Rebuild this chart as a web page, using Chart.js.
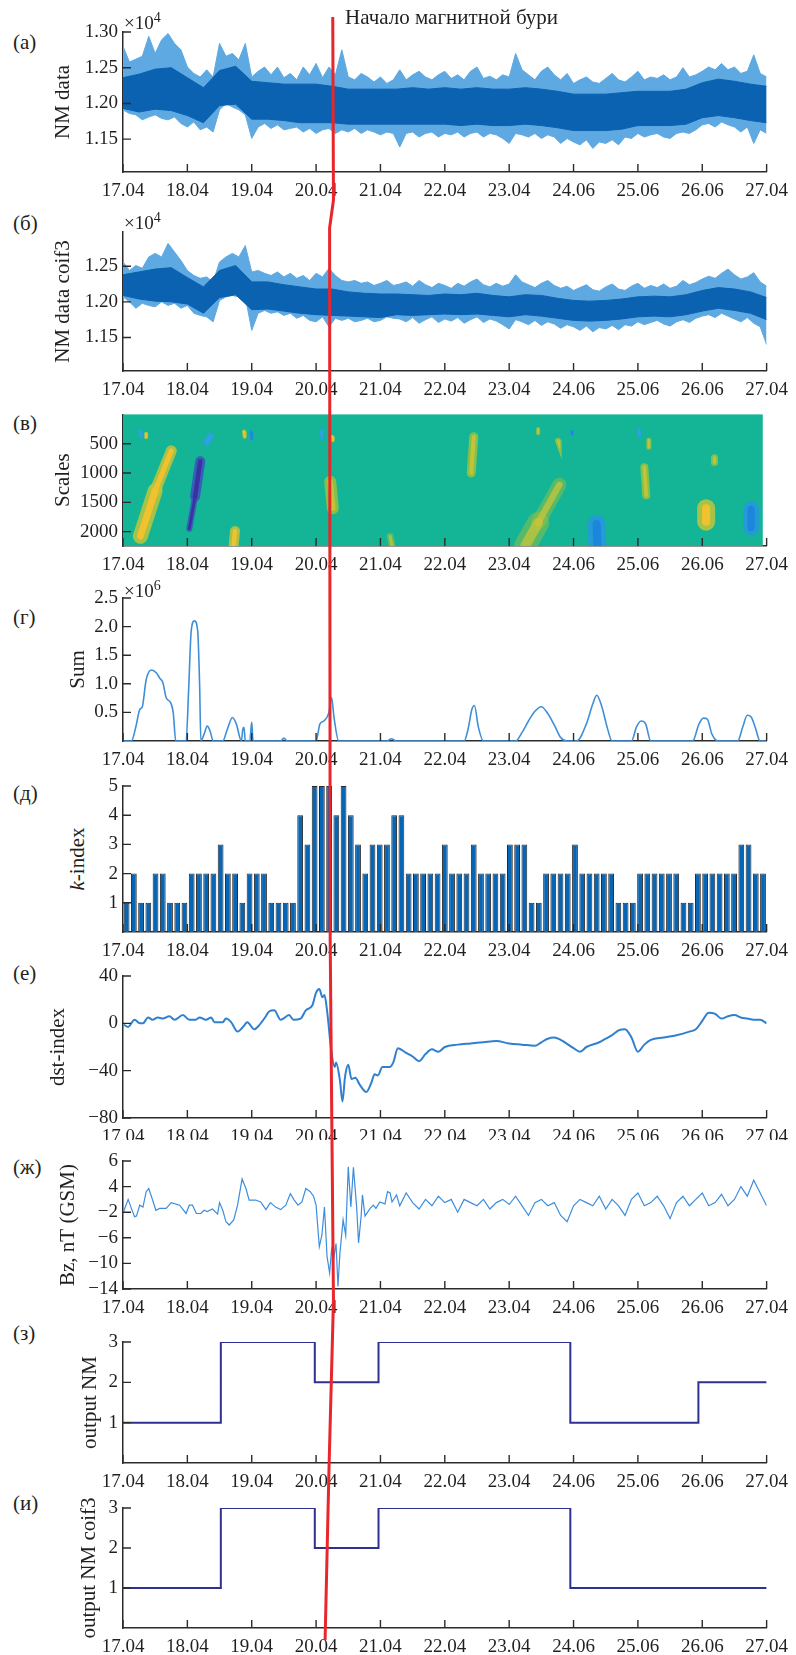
<!DOCTYPE html>
<html lang="ru">
<head>
<meta charset="utf-8">
<title>Начало магнитной бури</title>
<script src="https://cdn.jsdelivr.net/npm/chart.js@4.4.1/dist/chart.umd.min.js"></script>
<style>
  html, body { margin: 0; padding: 0; background: #fff; }
  body { position: relative; width: 796px; height: 1655px; overflow: hidden;
         font-family: "Liberation Serif", "Times New Roman", serif; color: #231f20; }
  canvas.panel { position: absolute; left: 0; }
  #storm { position: absolute; left: 0; top: 0; z-index: 5; pointer-events: none; }
  .tag { position: absolute; left: 13px; font-size: 21px; line-height: 26px; }
  .mult { position: absolute; left: 124px; font-size: 19px; line-height: 24px; z-index: 6; }
  .mult sup { font-size: 14px; }
  #caption { position: absolute; left: 345px; top: 4px; font-size: 21px; line-height: 26px; z-index: 6; }
  #ktitle { position: absolute; left: 77px; top: 859px; font-size: 21px; white-space: nowrap;
            transform: translate(-50%, -50%) rotate(-90deg); }
</style>
</head>
<body>
<div id="caption">Начало магнитной бури</div>
<div class="tag" style="top:29px">(а)</div>
<div class="tag" style="top:210px">(б)</div>
<div class="tag" style="top:410px">(в)</div>
<div class="tag" style="top:604px">(г)</div>
<div class="tag" style="top:780px">(д)</div>
<div class="tag" style="top:960px">(е)</div>
<div class="tag" style="top:1154px">(ж)</div>
<div class="tag" style="top:1320px">(з)</div>
<div class="tag" style="top:1490px">(и)</div>
<div class="mult" style="top:6px">×10<sup>4</sup></div>
<div class="mult" style="top:206px">×10<sup>4</sup></div>
<div class="mult" style="top:574px">×10<sup>6</sup></div>
<div id="ktitle"><i>k</i>-index</div>
<canvas id="storm" width="796" height="1655"></canvas>
<script>
// ---- axis labels ----
const xTickLabels = ['17.04', '18.04', '19.04', '20.04', '21.04', '22.04', '23.04', '24.06', '25.06', '26.06', '27.04'];
const nmTicks = [1.15, 1.20, 1.25, 1.30];
const nmTickLabels = ['1.15', '1.20', '1.25', '1.30'];
const coifTicks = [1.15, 1.20, 1.25];
const coifTickLabels = ['1.15', '1.20', '1.25'];
const scaleTicks = [500, 1000, 1500, 2000];
const sumTicks = [0.5, 1.0, 1.5, 2.0, 2.5];
const sumTickLabels = ['0.5', '1.0', '1.5', '2.0', '2.5'];
const kTicks = [1, 2, 3, 4, 5];
const dstTicks = [-80, -40, 0, 40];
const dstTickLabels = ['\u221280', '\u221240', '0', '40'];
const bzTicks = [-14, -10, -6, -2, 2, 6];
const bzTickLabels = ['\u221214', '\u221210', '\u22126', '\u22122', '4', '6'];
const outTicks = [1, 2, 3];

// ---- (а) NM data, x10^4 : envelope every 0.1 day, dense core every 0.25 day ----
const nmHi = [
  1.280, 1.258, 1.262, 1.266, 1.294, 1.270, 1.289, 1.298, 1.284, 1.275,
  1.251, 1.242, 1.237, 1.247, 1.237, 1.284, 1.266, 1.270, 1.261, 1.284,
  1.237, 1.245, 1.251, 1.240, 1.251, 1.236, 1.242, 1.233, 1.251, 1.240,
  1.256, 1.236, 1.251, 1.240, 1.275, 1.237, 1.233, 1.242, 1.237, 1.230,
  1.237, 1.228, 1.233, 1.247, 1.233, 1.240, 1.245, 1.237, 1.233, 1.240,
  1.245, 1.235, 1.240, 1.233, 1.245, 1.251, 1.235, 1.238, 1.233, 1.240,
  1.237, 1.270, 1.247, 1.240, 1.233, 1.245, 1.251, 1.240, 1.233, 1.242,
  1.228, 1.233, 1.237, 1.230, 1.228, 1.235, 1.242, 1.233, 1.230, 1.237,
  1.245, 1.233, 1.237, 1.235, 1.240, 1.233, 1.237, 1.250, 1.237, 1.240,
  1.245, 1.251, 1.247, 1.256, 1.247, 1.251, 1.242, 1.245, 1.268, 1.242,
  1.237];
const nmLo = [
  1.191, 1.186, 1.184, 1.177, 1.181, 1.184, 1.179, 1.177, 1.181, 1.172,
  1.167, 1.174, 1.163, 1.167, 1.160, 1.191, 1.200, 1.195, 1.191, 1.184,
  1.151, 1.167, 1.172, 1.165, 1.170, 1.163, 1.165, 1.167, 1.160, 1.165,
  1.158, 1.163, 1.165, 1.158, 1.163, 1.160, 1.165, 1.158, 1.163, 1.160,
  1.156, 1.160, 1.158, 1.139, 1.158, 1.160, 1.153, 1.158, 1.160, 1.153,
  1.158, 1.156, 1.160, 1.153, 1.158, 1.160, 1.153, 1.158, 1.156, 1.151,
  1.144, 1.158, 1.156, 1.153, 1.158, 1.151, 1.156, 1.153, 1.144, 1.151,
  1.146, 1.142, 1.149, 1.137, 1.146, 1.144, 1.149, 1.142, 1.153, 1.151,
  1.158, 1.153, 1.156, 1.158, 1.153, 1.151, 1.158, 1.160, 1.158, 1.163,
  1.170, 1.172, 1.167, 1.174, 1.170, 1.167, 1.160, 1.167, 1.144, 1.163,
  1.158];
const nmCoreHi = [
  1.236, 1.241, 1.248, 1.250, 1.236, 1.222, 1.246, 1.252, 1.231, 1.229,
  1.227, 1.227, 1.227, 1.224, 1.220, 1.220, 1.220, 1.220, 1.222, 1.220,
  1.222, 1.220, 1.222, 1.220, 1.220, 1.222, 1.220, 1.217, 1.213, 1.213,
  1.213, 1.215, 1.217, 1.217, 1.217, 1.220, 1.229, 1.234, 1.231, 1.227,
  1.224];
const nmCoreLo = [
  1.193, 1.188, 1.192, 1.190, 1.183, 1.173, 1.197, 1.199, 1.178, 1.178,
  1.176, 1.173, 1.173, 1.173, 1.171, 1.171, 1.171, 1.171, 1.171, 1.171,
  1.171, 1.169, 1.171, 1.169, 1.169, 1.171, 1.169, 1.166, 1.162, 1.162,
  1.162, 1.164, 1.169, 1.169, 1.169, 1.171, 1.180, 1.183, 1.180, 1.176,
  1.173];

// ---- (б) NM data coif3, x10^4 ----
const coifHi = [
  1.256, 1.244, 1.251, 1.247, 1.263, 1.268, 1.263, 1.282, 1.270, 1.258,
  1.244, 1.237, 1.233, 1.235, 1.228, 1.256, 1.263, 1.268, 1.263, 1.279,
  1.242, 1.244, 1.240, 1.237, 1.242, 1.235, 1.240, 1.233, 1.237, 1.230,
  1.240, 1.235, 1.247, 1.237, 1.230, 1.228, 1.230, 1.226, 1.228, 1.223,
  1.226, 1.230, 1.223, 1.225, 1.228, 1.222, 1.230, 1.224, 1.220, 1.226,
  1.223, 1.219, 1.226, 1.222, 1.228, 1.232, 1.224, 1.221, 1.226, 1.222,
  1.225, 1.238, 1.228, 1.224, 1.220, 1.226, 1.230, 1.223, 1.219, 1.222,
  1.216, 1.220, 1.224, 1.217, 1.215, 1.221, 1.225, 1.218, 1.216, 1.222,
  1.226, 1.219, 1.223, 1.220, 1.225, 1.219, 1.222, 1.230, 1.224, 1.227,
  1.232, 1.236, 1.233, 1.240, 1.246, 1.238, 1.232, 1.235, 1.241, 1.228,
  1.222];
const coifLo = [
  1.207, 1.200, 1.191, 1.198, 1.195, 1.193, 1.200, 1.195, 1.198, 1.191,
  1.195, 1.184, 1.181, 1.179, 1.172, 1.202, 1.207, 1.209, 1.207, 1.207,
  1.160, 1.184, 1.188, 1.184, 1.186, 1.181, 1.184, 1.177, 1.181, 1.174,
  1.172, 1.179, 1.165, 1.177, 1.174, 1.177, 1.172, 1.174, 1.177, 1.172,
  1.174, 1.179, 1.177, 1.176, 1.172, 1.178, 1.170, 1.175, 1.179, 1.171,
  1.176, 1.173, 1.178, 1.170, 1.175, 1.179, 1.171, 1.176, 1.173, 1.168,
  1.162, 1.175, 1.172, 1.168, 1.174, 1.167, 1.172, 1.169, 1.163, 1.168,
  1.165, 1.160, 1.166, 1.158, 1.164, 1.162, 1.167, 1.161, 1.168, 1.166,
  1.172, 1.168, 1.171, 1.174, 1.169, 1.166, 1.172, 1.175, 1.171, 1.177,
  1.180, 1.182, 1.178, 1.184, 1.180, 1.176, 1.172, 1.178, 1.170, 1.165,
  1.140];
const coifCoreHi = [
  1.238, 1.242, 1.246, 1.248, 1.234, 1.221, 1.244, 1.251, 1.228, 1.228,
  1.224, 1.221, 1.218, 1.218, 1.214, 1.212, 1.211, 1.211, 1.210, 1.209,
  1.211, 1.210, 1.212, 1.209, 1.207, 1.210, 1.209, 1.205, 1.202, 1.201,
  1.202, 1.204, 1.207, 1.208, 1.207, 1.210, 1.216, 1.220, 1.218, 1.214,
  1.206];
const coifCoreLo = [
  1.209, 1.204, 1.201, 1.200, 1.197, 1.184, 1.206, 1.210, 1.189, 1.190,
  1.187, 1.184, 1.182, 1.181, 1.180, 1.179, 1.178, 1.182, 1.181, 1.182,
  1.183, 1.182, 1.183, 1.181, 1.179, 1.182, 1.180, 1.177, 1.174, 1.173,
  1.174, 1.176, 1.179, 1.180, 1.179, 1.182, 1.187, 1.191, 1.188, 1.184,
  1.175];

// ---- (в) wavelet map: blobs [startDay, startScale, endDay, endScale, level] ----
const mapEndDay = 9.94;
const mapBlobs = [
  [0.27, 2080, 0.50, 1300, 'yellow'],
  [0.50, 1300, 0.75, 620, 'yellow'],
  [1.03, 1950, 1.12, 1400, 'dark'],
  [1.12, 1400, 1.20, 800, 'dark'],
  [1.30, 480, 1.36, 370, 'light'],
  [1.72, 2230, 1.74, 1990, 'yellow'],
  [1.88, 290, 1.89, 380, 'yellow'],
  [1.99, 300, 2.00, 420, 'blue'],
  [0.27, 280, 0.28, 380, 'light'],
  [0.36, 330, 0.36, 390, 'yellow'],
  [3.22, 1150, 3.26, 1600, 'green'],
  [3.08, 280, 3.09, 400, 'light'],
  [3.25, 380, 3.26, 440, 'yellow'],
  [4.15, 2080, 4.18, 2240, 'faint'],
  [5.45, 380, 5.41, 1000, 'green'],
  [6.45, 250, 6.45, 320, 'green'],
  [6.76, 450, 6.77, 480, 'green'],
  [6.98, 290, 6.98, 340, 'blue'],
  [6.25, 2240, 6.45, 1850, 'faint'],
  [6.45, 1850, 6.78, 1200, 'faint'],
  [7.36, 1870, 7.37, 2240, 'blue'],
  [8.02, 260, 8.02, 360, 'light'],
  [8.17, 440, 8.17, 560, 'green'],
  [8.10, 900, 8.13, 1380, 'green'],
  [9.19, 740, 9.19, 820, 'green'],
  [9.06, 1600, 9.06, 1830, 'yellow'],
  [9.76, 1620, 9.76, 1930, 'blue']
];

// ---- (г) Sum, x10^6 ----
const sumDays = [
  0, 0.13, 0.20, 0.26, 0.30, 0.36, 0.44, 0.52, 0.57, 0.62, 0.67, 0.74, 0.78, 0.82,
  0.98, 1.02, 1.06, 1.11, 1.16, 1.19, 1.21, 1.26, 1.31, 1.36, 1.40,
  1.55, 1.62, 1.70, 1.76, 1.84, 1.86, 1.88, 1.90, 1.97, 2.00, 2.02,
  2.45, 2.50, 2.55, 3.00, 3.06, 3.12, 3.20, 3.24, 3.28, 3.35,
  4.10, 4.17, 4.25, 5.30, 5.36, 5.42, 5.46, 5.52, 5.60,
  6.10, 6.20, 6.30, 6.40, 6.50, 6.60, 6.70, 6.80, 6.90,
  7.05, 7.20, 7.30, 7.36, 7.44, 7.52, 7.60,
  7.90, 7.98, 8.05, 8.12, 8.20, 8.85, 8.95, 9.02, 9.08, 9.15, 9.25,
  9.55, 9.63, 9.70, 9.76, 9.82, 9.90, 10];
const sumValues = [
  0, 0, 0.25, 0.55, 0.60, 1.07, 1.24, 1.19, 1.10, 1.02, 0.76, 0.67, 0.50, 0,
  0, 0.90, 1.93, 2.10, 1.93, 1.00, 0, 0.12, 0.26, 0.15, 0,
  0, 0.20, 0.41, 0.30, 0, 0.20, 0.24, 0, 0, 0.33, 0,
  0, 0.05, 0, 0, 0.30, 0.35, 0.50, 0.76, 0.40, 0,
  0, 0.04, 0, 0, 0.20, 0.55, 0.62, 0.25, 0,
  0, 0.15, 0.35, 0.52, 0.60, 0.48, 0.28, 0.06, 0,
  0, 0.30, 0.65, 0.80, 0.60, 0.25, 0,
  0, 0.25, 0.35, 0.30, 0, 0, 0.30, 0.40, 0.38, 0.12, 0,
  0, 0.25, 0.45, 0.42, 0.25, 0, 0];

// ---- (д) k-index, 3-hour bars ----
const kIndex = [
  1, 2, 1, 1, 2, 2, 1, 1, 1, 2,
  2, 2, 2, 3, 2, 2, 1, 2, 2, 2,
  1, 1, 1, 1, 4, 3, 5, 5, 5, 4,
  5, 4, 3, 2, 3, 3, 3, 4, 4, 2,
  2, 2, 2, 2, 3, 2, 2, 2, 3, 2,
  2, 2, 2, 3, 3, 3, 1, 1, 2, 2,
  2, 2, 3, 2, 2, 2, 2, 2, 1, 1,
  1, 2, 2, 2, 2, 2, 2, 1, 1, 2,
  2, 2, 2, 2, 2, 3, 3, 2, 2];

// ---- (е) Dst-index ----
const dstDays = [
  0.01, 0.08, 0.18, 0.26, 0.31, 0.39, 0.46, 0.54, 0.62, 0.72, 0.80, 0.93, 1.03, 1.13, 1.19,
  1.29, 1.37, 1.42, 1.55, 1.60, 1.68, 1.78, 1.88, 1.93, 2.04, 2.11, 2.22, 2.27, 2.35, 2.45,
  2.58, 2.65, 2.76, 2.84, 2.94, 3.00, 3.05, 3.10, 3.13, 3.17, 3.24, 3.29, 3.31, 3.37, 3.41,
  3.45, 3.50, 3.55, 3.61, 3.68, 3.78, 3.86, 3.91, 3.96, 4.03, 4.14, 4.20, 4.27,
  4.40, 4.50, 4.60, 4.70, 4.80, 4.90, 5.00, 5.20, 5.40, 5.60,
  5.80, 6.00, 6.20, 6.40, 6.50, 6.60, 6.70, 6.80, 7.00, 7.10,
  7.20, 7.40, 7.50, 7.60, 7.70, 7.80, 7.90, 8.00, 8.10, 8.20,
  8.40, 8.60, 8.80, 8.90, 9.00, 9.10, 9.20, 9.30, 9.40, 9.50,
  9.60, 9.70, 9.80, 9.90, 10.0];
const dstValues = [
  -1, -3, 3, 0, 0, 5, 3, 5, 4, 6, 3, 7, 3, 3, 5,
  3, 5, 1, 1, 4, 1, -7, -2, 1, -5, -2, 6, 10, 11, 3,
  7, 3, 4, 11, 15, 26, 29, 22, 24, 11, -25, -37, -33, -48, -66,
  -45, -35, -47, -46, -52, -58, -50, -43, -44, -37, -37, -33, -21,
  -25, -28, -32, -26, -22, -24, -20, -18, -17, -16,
  -15, -17, -18, -19, -16, -13, -12, -14, -21, -24,
  -20, -16, -13, -10, -6, -5, -12, -24, -18, -14,
  -12, -10, -7, -5, 2, 9, 8, 4, 6, 7,
  5, 4, 3, 3, 0];

// ---- (ж) Bz, nT (GSM) ----
const bzDays = [
  0.01, 0.08, 0.13, 0.18, 0.21, 0.26, 0.31, 0.36, 0.40, 0.46, 0.51, 0.57, 0.67, 0.75, 0.88,
  0.98, 1.03, 1.08, 1.14, 1.21, 1.26, 1.31, 1.39, 1.47, 1.50, 1.55, 1.60, 1.65, 1.72, 1.78,
  1.85, 1.91, 1.96, 2.06, 2.14, 2.22, 2.29, 2.37, 2.45, 2.53, 2.60, 2.66, 2.72, 2.78, 2.84,
  2.91, 2.96, 3.00, 3.05, 3.09, 3.13, 3.17, 3.21, 3.24, 3.27, 3.31, 3.34, 3.37, 3.42, 3.46,
  3.50, 3.54, 3.58, 3.63, 3.66, 3.70, 3.72, 3.76, 3.84, 3.89, 3.93, 3.99, 4.07, 4.11, 4.15,
  4.18, 4.25, 4.30, 4.40, 4.50, 4.60, 4.70, 4.80, 4.90, 5.00, 5.10, 5.20, 5.30, 5.40, 5.50,
  5.60, 5.70, 5.80, 5.90, 6.00, 6.10, 6.20, 6.30, 6.40, 6.50, 6.60, 6.70, 6.80, 6.90, 7.00,
  7.10, 7.20, 7.30, 7.40, 7.50, 7.60, 7.70, 7.80, 7.90, 8.00, 8.10, 8.20, 8.30, 8.40, 8.50,
  8.60, 8.70, 8.80, 8.90, 9.00, 9.10, 9.20, 9.30, 9.40, 9.50, 9.60, 9.70, 9.80, 9.90, 10.0];
const bzValues = [
  -1.9, 0, -1.4, -2.7, -2.6, -0.9, -1.2, 1.2, 1.7, -0.1, -1.7, -1.4, -1.4, -0.5, -0.9,
  -2.2, -0.9, -0.9, -2.2, -2.2, -1.7, -1.9, -1.5, -2.3, -0.5, -1.7, -3.5, -4.0, -3.2, -0.9,
  3.2, 1.7, -0.1, -0.1, -0.4, -1.6, -0.5, -1.2, -1.6, -0.9, 0.9, -0.1, -0.9, -0.4, 1.7,
  1.2, 0.5, -0.9, -7.4, -5.6, -1.2, -8.9, -11.5, -7.9, -9.5, -6.9, -13.6, -8.4, -3.2, -5.6,
  5.1, -1.2, 5.0, -1.2, -6.8, -2.6, 0.7, -2.6, -1.4, -0.9, -1.4, -0.4, -0.7, 1.2, 1.0,
  -0.4, 0.7, -1.0, 1.0, -0.5, -1.5, 0, -1.0, 0.5, -0.5, 0, -2.0, 0, -0.5, -1.0,
  0, -1.5, -0.5, 0, -0.8, 0.5, -1.0, -2.5, -0.5, 0, -1.0, -0.5, -2.5, -3.5, -1.0,
  0, -0.5, -1.0, 0.5, -1.5, 0, -1.0, -2.5, 0, 1.0, -1.0, -0.5, 0.5, -1.0, -3.0,
  -0.5, 0.5, -1.0, 0, 1.0, -1.0, -0.5, 0.8, -1.0, 0, 2.0, 0.5, 3.0, 1.0, -1.0];

// ---- (з), (и) classifier output (value holds until the next change) ----
const outNmDays = [0, 1.52, 2.98, 3.97, 6.95, 8.94, 10];
const outNmValues = [1, 3, 2, 3, 1, 2, 2];
const outCoifDays = [0, 1.52, 2.98, 3.97, 6.95, 10];
const outCoifValues = [1, 3, 2, 3, 1, 1];

// ---- storm onset marker: [page y, day] ----
const stormTrack = [[17, 3.259], [200, 3.27], [228, 3.21], [940, 3.219], [1120, 3.244],
                    [1300, 3.27], [1470, 3.20], [1640, 3.14]];

// ---------------------------------------------------------------
const AXIS = '#2b2b2b';
const MAP_BG = '#14b596';
const levelColours = {
  yellow: ['rgba(190,196,60,0.85)', '#f2c12e'],
  dark:   ['rgba(60,80,190,0.85)', '#3a32a0'],
  blue:   ['rgba(40,150,224,0.85)', '#1c86dc'],
  light:  ['rgba(40,160,224,0.9)', '#2ea4df'],
  green:  ['rgba(150,194,64,0.85)', '#c2c338'],
  faint:  ['rgba(150,194,64,0.5)', 'rgba(200,196,56,0.75)']
};
const blobWidths = [15, 11, 6, 10, 7, 10, 4, 4, 4, 4, 12, 4, 4, 7, 9, 4, 6, 4, 22, 14, 18, 4, 5, 8, 7, 18, 16];

const panelBoxes = [
  { top: 0,    height: 200, plotTop: 32,   plotBottom: 172 },
  { top: 200,  height: 198, plotTop: 232,  plotBottom: 371 },
  { top: 398,  height: 174, plotTop: 409,  plotBottom: 546 },
  { top: 572,  height: 196, plotTop: 598,  plotBottom: 741 },
  { top: 768,  height: 190, plotTop: 786,  plotBottom: 932 },
  { top: 958,  height: 182, plotTop: 976,  plotBottom: 1118 },
  { top: 1140, height: 178, plotTop: 1161, plotBottom: 1289 },
  { top: 1318, height: 172, plotTop: 1342, plotBottom: 1463 },
  { top: 1490, height: 165, plotTop: 1508, plotBottom: 1628 }
];

Chart.defaults.font.family = '"Liberation Serif", "Times New Roman", serif';
Chart.defaults.font.size = 19;
Chart.defaults.color = '#231f20';

function xy(days, values) {
  return days.map((d, i) => ({ x: d, y: values[i] }));
}
function everyStep(values, step) {
  return values.map((v, i) => ({ x: i * step, y: v }));
}

function xAxis(h) {
  return {
    type: 'linear', min: 0, max: 10, offset: false,
    grid: { display: false, drawTicks: false, offset: false },
    border: { display: true, color: AXIS, width: 1.5 },
    ticks: { stepSize: 1, padding: 8, autoSkip: false, maxRotation: 0,
             callback: v => xTickLabels[Math.round(v)] },
    afterFit: s => { s.height = h; }
  };
}

function yAxis(o) {
  const labels = o.labels || o.ticks.map(String);
  return {
    type: 'linear', min: o.min, max: o.max, reverse: !!o.reverse,
    grid: { display: false, drawTicks: false },
    border: { display: true, color: AXIS, width: 1.5 },
    ticks: { padding: 5, autoSkip: false,
             callback: v => { const i = o.ticks.indexOf(v); return i < 0 ? '' : labels[i]; } },
    afterBuildTicks: s => { s.ticks = o.ticks.map(v => ({ value: v })); },
    afterFit: s => { s.width = 123; },
    title: o.title
      ? { display: true, text: o.title, font: { size: 21 }, padding: { top: o.titleX - 12.6, bottom: 0 } }
      : { display: false }
  };
}

// tick marks drawn inward, as in the original figure
const inwardTicks = {
  id: 'inwardTicks',
  afterDatasetsDraw(chart) {
    const { ctx, chartArea: a, scales } = chart;
    ctx.save();
    ctx.strokeStyle = AXIS;
    ctx.lineWidth = 1.4;
    ctx.beginPath();
    scales.x.ticks.forEach(t => {
      const px = scales.x.getPixelForValue(t.value);
      ctx.moveTo(px, a.bottom);
      ctx.lineTo(px, a.bottom - 8);
    });
    scales.y.ticks.forEach(t => {
      const py = scales.y.getPixelForValue(t.value);
      ctx.moveTo(a.left, py);
      ctx.lineTo(a.left + 8, py);
    });
    ctx.stroke();
    ctx.restore();
  }
};

const mapBackground = {
  id: 'mapBackground',
  beforeDatasetsDraw(chart) {
    const { ctx, chartArea: a, scales } = chart;
    ctx.save();
    ctx.fillStyle = MAP_BG;
    ctx.fillRect(a.left, a.top, scales.x.getPixelForValue(mapEndDay) - a.left, a.bottom - a.top);
    ctx.restore();
  }
};

function makePanel(i, type, data, yScale, extraScales, extraPlugins) {
  const box = panelBoxes[i];
  const cv = document.createElement('canvas');
  cv.className = 'panel';
  cv.width = 796;
  cv.height = box.height;
  cv.style.top = box.top + 'px';
  document.body.insertBefore(cv, document.getElementById('storm'));
  const scales = Object.assign({ x: xAxis(box.top + box.height - box.plotBottom), y: yScale }, extraScales || {});
  return new Chart(cv, {
    type: type,
    data: data,
    options: {
      responsive: false,
      animation: false,
      events: [],
      layout: { autoPadding: false, padding: { top: box.plotTop - box.top, right: 25, left: 0, bottom: 0 } },
      plugins: { legend: { display: false }, tooltip: { enabled: false } },
      scales: scales
    },
    plugins: [inwardTicks].concat(extraPlugins || [])
  });
}

function band(hi, lo, step, colour, order) {
  return [
    { data: everyStep(hi, step), borderColor: colour, backgroundColor: colour, borderWidth: 1,
      pointRadius: 0, fill: '+1', order: order },
    { data: everyStep(lo, step), borderColor: colour, backgroundColor: colour, borderWidth: 1,
      pointRadius: 0, fill: false, order: order }
  ];
}

const LIGHT = '#5ea9e2';
const CORE = '#0a62b0';

const charts = [];

// (а)
charts.push(makePanel(0, 'line', {
  datasets: band(nmHi, nmLo, 0.1, LIGHT, 2).concat(band(nmCoreHi, nmCoreLo, 0.25, CORE, 1))
}, yAxis({ min: 1.104, max: 1.30, ticks: nmTicks, labels: nmTickLabels, title: 'NM data', titleX: 63 })));

// (б)
charts.push(makePanel(1, 'line', {
  datasets: band(coifHi, coifLo, 0.1, LIGHT, 2).concat(band(coifCoreHi, coifCoreLo, 0.25, CORE, 1))
}, yAxis({ min: 1.103, max: 1.298, ticks: coifTicks, labels: coifTickLabels, title: 'NM data coif3', titleX: 63 })));

// (в)
const blobSets = [];
mapBlobs.forEach((b, i) => {
  const c = levelColours[b[4]];
  const pts = [{ x: b[0], y: b[1] }, { x: b[2], y: b[3] }];
  blobSets.push({ data: pts, borderColor: c[0], borderWidth: blobWidths[i], borderCapStyle: 'round',
                  pointRadius: 0, order: 2 });
  blobSets.push({ data: pts, borderColor: c[1], borderWidth: Math.max(2, blobWidths[i] * 0.45),
                  borderCapStyle: 'round', pointRadius: 0, order: 1 });
});
charts.push(makePanel(2, 'line', { datasets: blobSets },
  yAxis({ min: 0, max: 2245, reverse: true, ticks: scaleTicks, title: 'Scales', titleX: 63 }),
  null, [mapBackground]));

// (г)
charts.push(makePanel(3, 'line', {
  datasets: [{ data: xy(sumDays, sumValues), borderColor: '#3f8fd8', borderWidth: 1.6, pointRadius: 0,
               cubicInterpolationMode: 'monotone' }]
}, yAxis({ min: 0, max: 2.5, ticks: sumTicks, labels: sumTickLabels, title: 'Sum', titleX: 78 })));

// (д)
charts.push(makePanel(4, 'bar', {
  labels: kIndex.map((_, i) => i),
  datasets: [{ data: kIndex, xAxisID: 'xc', backgroundColor: '#0765b5', borderColor: '#2a2a2a',
               borderWidth: 1, categoryPercentage: 1, barPercentage: 0.8 }]
}, yAxis({ min: 0, max: 5, ticks: kTicks }),
  { xc: { type: 'category', display: false, offset: true } }));

// (е)
charts.push(makePanel(5, 'line', {
  datasets: [{ data: xy(dstDays, dstValues), borderColor: '#2f80d0', borderWidth: 2, pointRadius: 0,
               cubicInterpolationMode: 'monotone' }]
}, yAxis({ min: -80, max: 40, ticks: dstTicks, labels: dstTickLabels, title: 'dst-index', titleX: 58 })));

// (ж)
charts.push(makePanel(6, 'line', {
  datasets: [{ data: xy(bzDays, bzValues), borderColor: '#3c8ddc', borderWidth: 1.2, pointRadius: 0 }]
}, yAxis({ min: -14, max: 6, ticks: bzTicks, labels: bzTickLabels, title: 'Bz, nT (GSM)', titleX: 68 })));

// (з)
charts.push(makePanel(7, 'line', {
  datasets: [{ data: xy(outNmDays, outNmValues), stepped: 'before', borderColor: '#2e3192', borderWidth: 2, pointRadius: 0 }]
}, yAxis({ min: 0, max: 3, ticks: outTicks, title: 'output NM', titleX: 90 })));

// (и)
charts.push(makePanel(8, 'line', {
  datasets: [{ data: xy(outCoifDays, outCoifValues), stepped: 'before', borderColor: '#2e3192', borderWidth: 2, pointRadius: 0 }]
}, yAxis({ min: 0, max: 3, ticks: outTicks, title: 'output NM coif3', titleX: 89 })));

// storm onset line across all panels
(function () {
  const ctx = document.getElementById('storm').getContext('2d');
  const xs = charts[0].scales.x;
  ctx.strokeStyle = '#e8262b';
  ctx.lineWidth = 3;
  ctx.lineJoin = 'round';
  ctx.beginPath();
  stormTrack.forEach((p, i) => {
    const px = xs.getPixelForValue(p[1]);
    if (i === 0) ctx.moveTo(px, p[0]); else ctx.lineTo(px, p[0]);
  });
  ctx.stroke();
})();
</script>
</body>
</html>
